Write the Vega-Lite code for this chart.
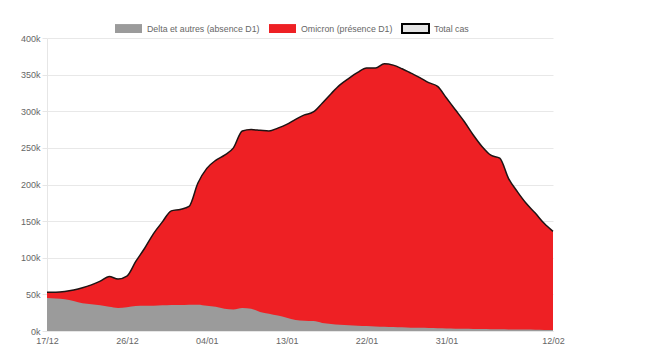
{
  "$schema": "https://vega.github.io/schema/vega-lite/v6.json",
  "width": 506,
  "height": 293,
  "autosize": {"type": "none"},
  "padding": {"left": 47, "top": 38, "right": 93, "bottom": 32},
  "background": "white",
  "config": {
    "view": {"stroke": null},
    "font": "Liberation Sans",
    "axis": {"labelFont": "Liberation Sans", "labelColor": "#666666", "labelFontSize": 9}
  },
  "data": {
    "values": [
      {"date": "2021-12-17", "delta": 45000, "total": 53000},
      {"date": "2021-12-18", "delta": 44500, "total": 53000},
      {"date": "2021-12-19", "delta": 43500, "total": 54000},
      {"date": "2021-12-20", "delta": 41000, "total": 56000},
      {"date": "2021-12-21", "delta": 38000, "total": 59000},
      {"date": "2021-12-22", "delta": 36500, "total": 63000},
      {"date": "2021-12-23", "delta": 35000, "total": 68000},
      {"date": "2021-12-24", "delta": 33000, "total": 74500},
      {"date": "2021-12-25", "delta": 31500, "total": 71000},
      {"date": "2021-12-26", "delta": 32500, "total": 75000},
      {"date": "2021-12-27", "delta": 34000, "total": 95000},
      {"date": "2021-12-28", "delta": 34500, "total": 113000},
      {"date": "2021-12-29", "delta": 34500, "total": 133000},
      {"date": "2021-12-30", "delta": 35000, "total": 149000},
      {"date": "2021-12-31", "delta": 35500, "total": 164000},
      {"date": "2022-01-01", "delta": 35500, "total": 166000},
      {"date": "2022-01-02", "delta": 36000, "total": 170000},
      {"date": "2022-01-03", "delta": 36000, "total": 202000},
      {"date": "2022-01-04", "delta": 34500, "total": 222000},
      {"date": "2022-01-05", "delta": 33000, "total": 233000},
      {"date": "2022-01-06", "delta": 30500, "total": 240000},
      {"date": "2022-01-07", "delta": 29500, "total": 250000},
      {"date": "2022-01-08", "delta": 31500, "total": 273000},
      {"date": "2022-01-09", "delta": 30500, "total": 275000},
      {"date": "2022-01-10", "delta": 26000, "total": 274000},
      {"date": "2022-01-11", "delta": 23500, "total": 273000},
      {"date": "2022-01-12", "delta": 21000, "total": 277000},
      {"date": "2022-01-13", "delta": 18000, "total": 282000},
      {"date": "2022-01-14", "delta": 15000, "total": 289000},
      {"date": "2022-01-15", "delta": 14000, "total": 295000},
      {"date": "2022-01-16", "delta": 13500, "total": 299000},
      {"date": "2022-01-17", "delta": 11000, "total": 311000},
      {"date": "2022-01-18", "delta": 9500, "total": 324000},
      {"date": "2022-01-19", "delta": 8500, "total": 336000},
      {"date": "2022-01-20", "delta": 7700, "total": 345000},
      {"date": "2022-01-21", "delta": 7100, "total": 353000},
      {"date": "2022-01-22", "delta": 6700, "total": 359000},
      {"date": "2022-01-23", "delta": 6300, "total": 359000},
      {"date": "2022-01-24", "delta": 5900, "total": 365000},
      {"date": "2022-01-25", "delta": 5500, "total": 363000},
      {"date": "2022-01-26", "delta": 5000, "total": 358000},
      {"date": "2022-01-27", "delta": 4600, "total": 352000},
      {"date": "2022-01-28", "delta": 4300, "total": 346000},
      {"date": "2022-01-29", "delta": 4000, "total": 339000},
      {"date": "2022-01-30", "delta": 3700, "total": 334000},
      {"date": "2022-01-31", "delta": 3400, "total": 318000},
      {"date": "2022-02-01", "delta": 3200, "total": 302000},
      {"date": "2022-02-02", "delta": 3000, "total": 286000},
      {"date": "2022-02-03", "delta": 2800, "total": 268000},
      {"date": "2022-02-04", "delta": 2600, "total": 252000},
      {"date": "2022-02-05", "delta": 2400, "total": 240000},
      {"date": "2022-02-06", "delta": 2300, "total": 236000},
      {"date": "2022-02-07", "delta": 2200, "total": 208000},
      {"date": "2022-02-08", "delta": 2100, "total": 190000},
      {"date": "2022-02-09", "delta": 2000, "total": 174000},
      {"date": "2022-02-10", "delta": 1800, "total": 161000},
      {"date": "2022-02-11", "delta": 1500, "total": 147000},
      {"date": "2022-02-12", "delta": 1200, "total": 136000}
    ]
  },
  "encoding": {
    "x": {
      "field": "date",
      "type": "temporal",
      "title": null,
      "scale": {
        "type": "utc",
        "nice": false,
        "domain": [
          {"year": 2021, "month": 12, "date": 17, "utc": true},
          {"year": 2022, "month": 2, "date": 12, "utc": true}
        ]
      },
      "axis": {
        "labelExpr": "utcFormat(datum.value, '%d/%m')",
        "values": [
          {"year": 2021, "month": 12, "date": 17, "utc": true},
          {"year": 2021, "month": 12, "date": 26, "utc": true},
          {"year": 2022, "month": 1, "date": 4, "utc": true},
          {"year": 2022, "month": 1, "date": 13, "utc": true},
          {"year": 2022, "month": 1, "date": 22, "utc": true},
          {"year": 2022, "month": 1, "date": 31, "utc": true},
          {"year": 2022, "month": 2, "date": 12, "utc": true}
        ],
        "grid": false,
        "ticks": false,
        "domain": true,
        "domainColor": "#e6e6e6",
        "labelPadding": 5,
        "labelFlush": false,
        "labelOverlap": false
      }
    },
    "y": {
      "type": "quantitative",
      "title": null,
      "scale": {"domain": [0, 400000], "nice": false},
      "axis": {
        "values": [0, 50000, 100000, 150000, 200000, 250000, 300000, 350000, 400000],
        "labelExpr": "(datum.value / 1000) + 'k'",
        "labelOverlap": false,
        "gridColor": "#e8e8e8",
        "domainColor": "#e6e6e6",
        "tickColor": "#e6e6e6",
        "tickSize": 5,
        "labelPadding": 2
      }
    }
  },
  "layer": [
    {
      "mark": {"type": "area", "interpolate": "monotone", "opacity": 1},
      "encoding": {
        "y": {"field": "total"},
        "color": {
          "datum": "Omicron (présence D1)",
          "type": "nominal",
          "scale": {
            "domain": ["Delta et autres (absence D1)", "Omicron (présence D1)", "Total cas"],
            "range": ["#9b9b9b", "#ee2024", "#e4e4e4"]
          },
          "legend": {
            "title": null,
            "orient": "none",
            "direction": "horizontal",
            "legendX": 67,
            "legendY": -24,
            "padding": 0,
            "symbolType": "M-1,-0.33H1V0.33H-1Z",
            "symbolSize": 729,
            "symbolOpacity": 1,
            "symbolStrokeWidth": 2,
            "labelFontSize": 8.8,
            "labelColor": "#666666",
            "labelFont": "Liberation Sans",
            "labelOffset": 4,
            "columnPadding": 5,
            "encode": {
              "symbols": {
                "update": {
                  "stroke": {"signal": "datum.label === 'Total cas' ? '#000000' : 'transparent'"},
                  "strokeWidth": {"value": 2}
                }
              }
            }
          }
        }
      }
    },
    {
      "mark": {"type": "area", "interpolate": "monotone", "opacity": 1},
      "encoding": {
        "y": {"field": "delta"},
        "color": {"datum": "Delta et autres (absence D1)", "type": "nominal"}
      }
    },
    {
      "mark": {"type": "line", "interpolate": "monotone", "color": "#1e1414", "strokeWidth": 1.5},
      "encoding": {
        "y": {"field": "total"}
      }
    }
  ]
}
